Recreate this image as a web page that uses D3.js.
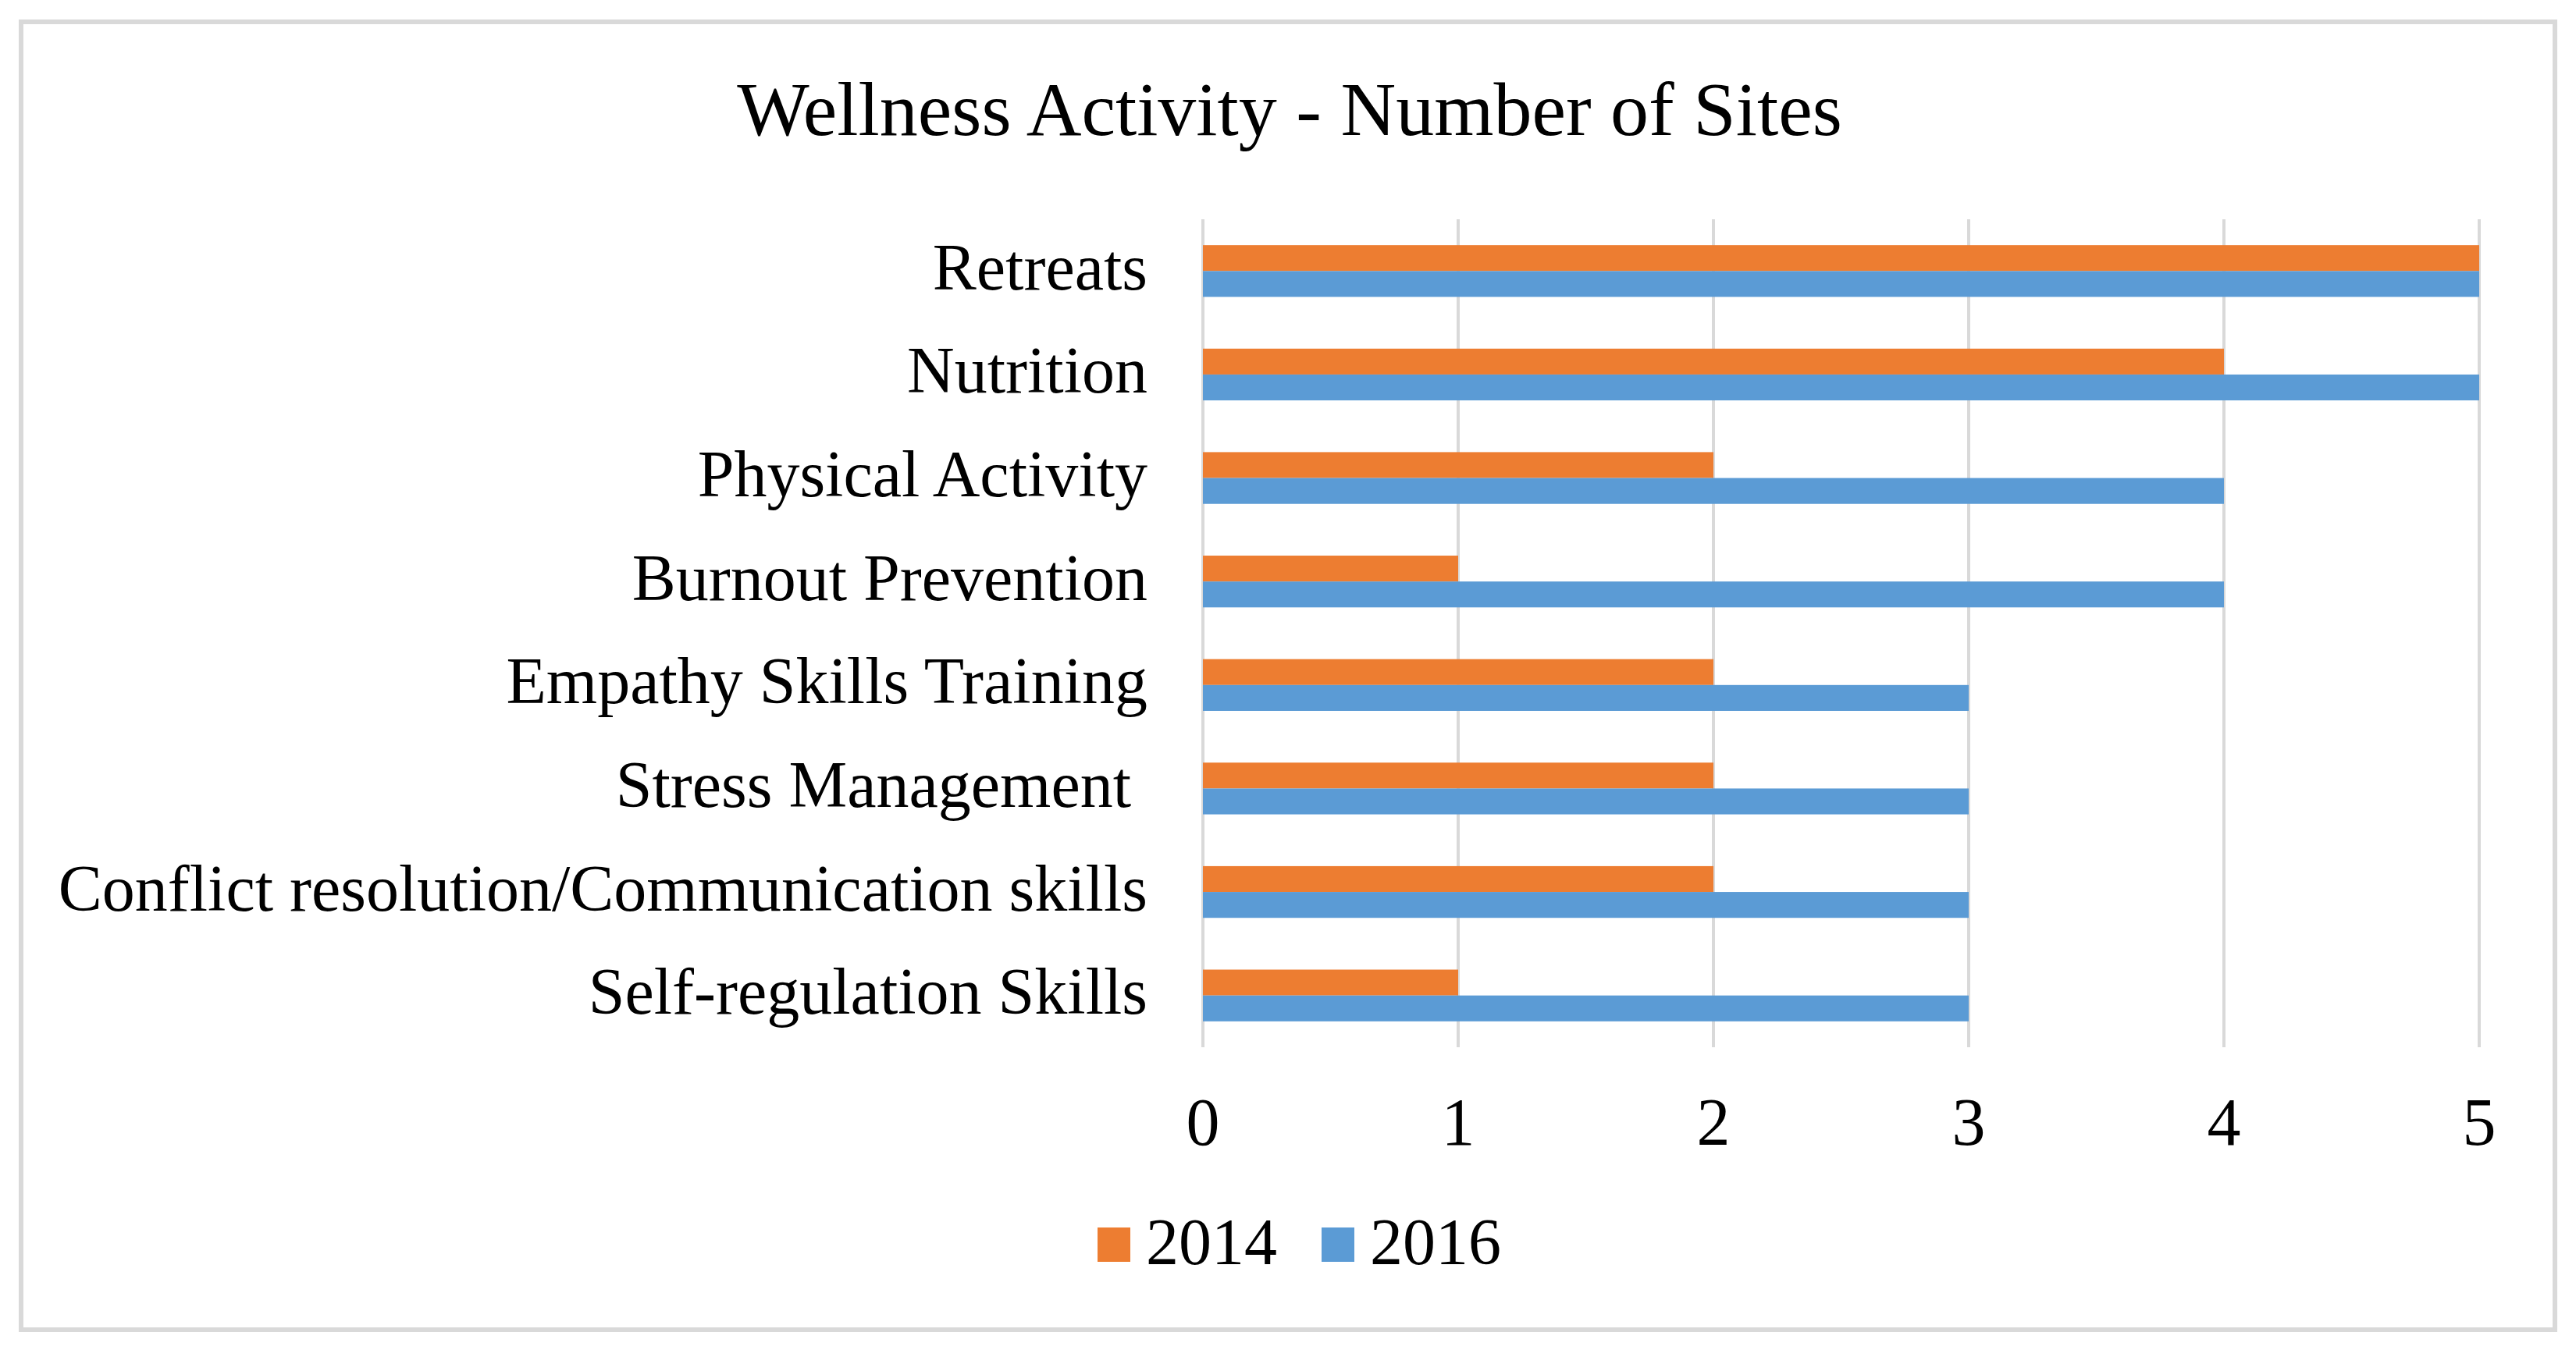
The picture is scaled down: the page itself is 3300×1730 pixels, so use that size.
<!DOCTYPE html>
<html>
<head>
<meta charset="utf-8">
<script src="https://cdn.jsdelivr.net/npm/d3@7"></script>
<style>
  html, body { margin: 0; padding: 0; background: #fff; }
  text { font-family: "Liberation Serif", "Times New Roman", serif; fill: #000; }
</style>
</head>
<body>
<div id="chart"></div>
<script>
var categories = ["Retreats", "Nutrition", "Physical Activity", "Burnout Prevention",
                  "Empathy Skills Training", "Stress Management ",
                  "Conflict resolution/Communication skills", "Self-regulation Skills"];
var years = ["2014", "2016"];
var values2014 = [5, 4, 2, 1, 2, 2, 2, 1];
var values2016 = [5, 5, 4, 4, 3, 3, 3, 3];
var xTicks = [0, 1, 2, 3, 4, 5];
var colors = ["#ED7D31", "#5B9BD5"];

var width = 3300,
    height = 1730;

var plotLeft = 1541, plotRight = 3176, plotTop = 281, plotBottom = 1342;

var svg = d3.select("#chart").append("svg")
    .attr("width", width)
    .attr("height", height);

svg.append("rect")
  .attr("x", 0).attr("y", 0)
  .attr("width", width).attr("height", height)
  .style("fill", "#fff");

// chart border
svg.append("rect")
  .attr("x", 27).attr("y", 28)
  .attr("width", 3246).attr("height", 1676)
  .style("fill", "none")
  .style("stroke", "#D9D9D9")
  .style("stroke-width", 6);

svg.append("text")
  .attr("x", 1652)
  .attr("y", 173)
  .attr("text-anchor", "middle")
  .style("font-size", "98px")
  .text("Wellness Activity - Number of Sites");

var x = d3.scaleLinear()
  .domain([0, 5])
  .range([plotLeft, plotRight]);

var y = d3.scaleBand()
  .domain(categories)
  .range([plotTop, plotBottom])
  .paddingInner(0.5)
  .paddingOuter(0.25);

var ySub = d3.scaleBand()
  .domain(years)
  .range([0, y.bandwidth()]);

// gridlines
svg.append("g")
  .selectAll("line")
  .data(xTicks)
  .enter()
  .append("line")
  .attr("x1", function(d){ return x(d); })
  .attr("x2", function(d){ return x(d); })
  .attr("y1", plotTop)
  .attr("y2", plotBottom)
  .style("stroke", "#D9D9D9")
  .style("stroke-width", 4);

// bars
var rows = categories.map(function(c, i){
  return {cat: c, vals: [values2014[i], values2016[i]]};
});

var groups = svg.append("g")
  .selectAll("g")
  .data(rows)
  .enter()
  .append("g")
  .attr("transform", function(d){ return "translate(0," + y(d.cat) + ")"; });

groups.selectAll("rect")
  .data(function(d){
    return d.vals.map(function(v, j){ return {year: years[j], value: v, color: colors[j]}; });
  })
  .enter()
  .append("rect")
  .attr("x", x(0))
  .attr("y", function(d){ return ySub(d.year); })
  .attr("width", function(d){ return x(d.value) - x(0); })
  .attr("height", ySub.bandwidth())
  .style("fill", function(d){ return d.color; });

// category labels
svg.append("g")
  .selectAll("text")
  .data(categories)
  .enter()
  .append("text")
  .attr("x", plotLeft - 71)
  .attr("y", function(d){ return y(d) + y.bandwidth() / 2; })
  .attr("dy", "0.28em")
  .attr("text-anchor", "end")
  .style("font-size", "84px")
  .style("white-space", "pre")
  .text(function(d){ return d; });

// x tick labels
svg.append("g")
  .selectAll("text")
  .data(xTicks)
  .enter()
  .append("text")
  .attr("x", function(d){ return x(d); })
  .attr("y", 1467)
  .attr("text-anchor", "middle")
  .style("font-size", "86px")
  .text(function(d){ return d; });

// legend
var legendX = [1406, 1693];
var legend = svg.append("g")
  .selectAll("g")
  .data(years)
  .enter()
  .append("g")
  .attr("transform", function(d, i){ return "translate(" + legendX[i] + ",0)"; });

legend.append("rect")
  .attr("x", 0)
  .attr("y", 1573)
  .attr("width", 42)
  .attr("height", 44)
  .style("fill", function(d, i){ return colors[i]; });

legend.append("text")
  .attr("x", 62)
  .attr("y", 1620)
  .style("font-size", "84px")
  .text(function(d){ return d; });
</script>
</body>
</html>
